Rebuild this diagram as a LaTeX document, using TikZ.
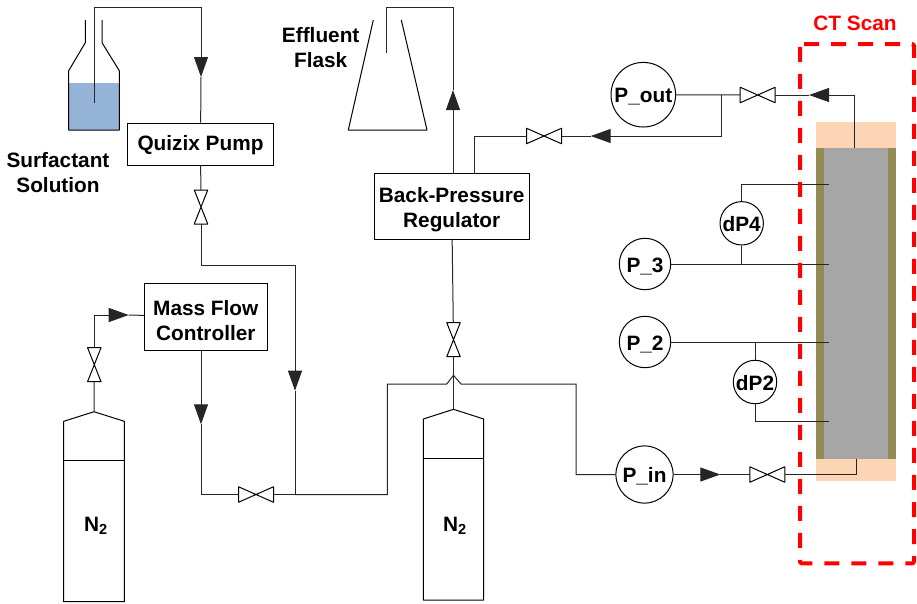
\documentclass[tikz,border=0pt]{standalone}
\usepackage{fontspec}
\setmainfont{Liberation Sans}
\usepackage{xcolor}
\usetikzlibrary{arrows.meta}
\definecolor{liquidcolor}{HTML}{95B3D7}
\definecolor{capcolor}{HTML}{FCD5B5}
\definecolor{sleevecolor}{HTML}{948A54}
\definecolor{corecolor}{HTML}{A6A6A6}
\newcommand{\labelfont}{\fontsize{20.8}{25}\selectfont\bfseries}
\tikzstyle{pipe} = [line width=1pt, draw=black!85]
\tikzstyle{arrow} = [pipe, -{Triangle[length=20pt, width=14pt]}]
\tikzstyle{unit} = [rectangle, draw=black, line width=1pt,
font=\labelfont, align=center, text centered, inner sep=0pt, text height=48pt]
\tikzstyle{gauge} = [circle, draw=black, fill=white, line width=1pt,
font=\labelfont, inner sep=0pt, text height=16pt, text depth=0pt]
\tikzstyle{plain} = [font=\labelfont, align=center, inner sep=0pt]
\tikzstyle{layer} = [rectangle, inner sep=0pt, outer sep=0pt]
\tikzstyle{vessel} = [line width=1pt, draw=black, line join=round]
\tikzstyle{valvebox} = [rectangle, inner sep=0pt, outer sep=0pt]
% #1 name, #2 position
\newcommand{\hvalve}[2]{
  \node (#1) [valvebox, minimum width=35pt, minimum height=15.5pt] at (#2) {};
  \draw [vessel, fill=white] (#1.north west) -- (#1.south east)
    -- (#1.north east) -- (#1.south west) -- cycle;
}
\newcommand{\vvalve}[2]{
  \node (#1) [valvebox, minimum width=13.5pt, minimum height=34pt] at (#2) {};
  \draw [vessel, fill=white] (#1.north west) -- (#1.south east)
    -- (#1.south west) -- (#1.north east) -- cycle;
}
\begin{document}
\begin{tikzpicture}[x=1pt, y=-1pt]
\useasboundingbox (0,0) rectangle (917,603);

%-----------the core holder
\node (captop) [layer, fill=capcolor, minimum width=80pt, minimum height=26.6pt]
  at (856,135) {};
\node (capbot) [layer, fill=capcolor, minimum width=80pt, minimum height=21.4pt]
  at (856,470) {};
\node (sleeve) [layer, fill=sleevecolor, minimum width=80pt, minimum height=311pt]
  at (856,303.8) {};
\node (core) [layer, fill=corecolor, minimum width=64pt, minimum height=311pt]
  at (856,303.8) {};

%-----------surfactant bottle
\fill [liquidcolor] (68.7,83) rectangle (119.3,130);
\draw [vessel] (85.3,20) -- (85.3,42.7) -- (68.7,70.7) -- (68.7,130)
  -- (119.3,130) -- (119.3,70.7) -- (102,42.7) -- (102,20);
\node (surfactant) [plain] at (58,172.5) {Surfactant\\Solution};

%-----------effluent flask
\draw [vessel] (373.3,20) -- (348.3,130) -- (427,130) -- (401.3,20);
\node (effluent) [plain] at (320.7,47.5) {Effluent\\Flask};

%-----------gas bottles
\draw [vessel] (94,411.7) -- (124.3,421.3) -- (124.3,601.7) -- (63.7,601.7)
  -- (63.7,421.3) -- cycle;
\draw [vessel] (63.7,460.3) -- (124.3,460.3);
\node (gasleft) [plain] at (96,526) {N\textsubscript{2}};
\draw [vessel] (453.5,409.3) -- (483.7,419) -- (483.7,600) -- (423.3,600)
  -- (423.3,419) -- cycle;
\draw [vessel] (423.3,458.7) -- (483.7,458.7);
\node (gasright) [plain] at (455,526) {N\textsubscript{2}};

%-----------units
\node (pump) [unit, minimum width=146.7pt, minimum height=42pt, text height=17.7pt]
  at (200.5,144) {Quizix Pump};
\node (mfc) [unit, minimum width=123pt, minimum height=67.7pt] at (205.8,317)
  {Mass Flow\\Controller};
\node (bpr) [unit, minimum width=155.3pt, minimum height=66pt] at (451.7,206)
  {Back-Pressure\\Regulator};

%-----------gauges
\node (pout) [gauge, minimum size=64.6pt] at (643.3,94.7) {P\_out};
\node (pthree) [gauge, minimum size=51.4pt] at (645,264) {P\_3};
\node (ptwo) [gauge, minimum size=51.4pt] at (645,342) {P\_2};
\node (pin) [gauge, minimum size=57.2pt] at (644.5,474.5) {P\_in};
\node (dpfour) [gauge, minimum size=43.4pt] at (741.7,223.3) {dP4};
\node (dptwo) [gauge, minimum size=43.4pt] at (755,382) {dP2};

%-----------valves
\vvalve{vpump}{201,207}
\vvalve{vmfc}{94.3,364.7}
\vvalve{vgas}{453.5,339.7}
\hvalve{vmix}{256,494.5}
\hvalve{vbpr}{544,136}
\hvalve{vout}{757.7,95}
\hvalve{vin}{767.3,474.5}

%-----------free ends and corners
\coordinate (dipin) at (94,103);
\coordinate (dipout) at (386,53.3);
\coordinate (tipfeed) at (201,77);
\coordinate (tipflask) at (453,90);
\coordinate (tipbpr) at (590.7,136);
\coordinate (tipout) at (809,95);
\coordinate (tipmfc) at (128.7,315);
\coordinate (tipsurf) at (295,390.7);
\coordinate (tipgas) at (201,424.3);
\coordinate (tipin) at (720.3,474.5);
\coordinate (tee) at (295,494.5);
\coordinate (bottleleft) at (94,411.7);
\coordinate (bottleright) at (453.5,409.3);
\coordinate (splitout) at (721.3,94.7);
\coordinate (coretop) at (854.3,148.3);
\coordinate (corebot) at (856,459.3);
\coordinate (portfour) at (829,184.3);
\coordinate (portthree) at (829,264);
\coordinate (porttwo) at (829,342);
\coordinate (portone) at (829,421.3);
\coordinate (teefour) at (741.7,264);
\coordinate (teetwo) at (755,342);

%-----------surfactant line
\draw [arrow] (dipin) -- (94,7.5) -- (201,7.5) -- (tipfeed);
\draw [pipe] (tipfeed) -- (pump);
\draw [pipe] (pump) -- (vpump);
\draw [arrow] (vpump) |- (295,265) -- (tipsurf);
\draw [pipe] (tipsurf) -- (tee);

%-----------gas line
\draw [pipe] (bottleleft) -- (vmfc);
\draw [arrow] (vmfc) |- (tipmfc);
\draw [pipe] (tipmfc) -- (mfc);
\draw [arrow] (mfc.south -| tipgas) -- (tipgas);
\draw [pipe] (tipgas) |- (vmix);
\draw [pipe] (vmix) -- (tee);

%-----------feed to the core
\draw [pipe] (tee) -- (387.3,494.5) -- (387.3,384) -- (446.7,384)
  -- (453.5,375.3) -- (461,384) -- (576,384) -- (576,474.5) -- (pin);
\draw [arrow] (pin) -- (tipin);
\draw [pipe] (tipin) -- (vin);
\draw [pipe] (vin) -| (corebot);

%-----------out of the core
\draw [arrow] (coretop) |- (tipout);
\draw [pipe] (tipout) -- (vout);
\draw [pipe] (vout) -- (pout);
\draw [arrow] (splitout) |- (tipbpr);
\draw [pipe] (tipbpr) -- (vbpr);
\draw [pipe] (vbpr) -| (474.3,173);
\draw [arrow] (bpr.north -| tipflask) -- (tipflask);
\draw [pipe] (tipflask) |- (386,7.5) -- (dipout);
\draw [pipe] (bpr) -- (vgas);
\draw [pipe] (vgas) -- (bottleright);

%-----------pressure taps
\draw [pipe] (pthree) -- (portthree);
\draw [pipe] (ptwo) -- (porttwo);
\draw [pipe] (dpfour) |- (portfour);
\draw [pipe] (dpfour) -- (teefour);
\draw [pipe] (dptwo) -- (teetwo);
\draw [pipe] (dptwo) |- (portone);

%-----------the scanned region
\node (scan) [rectangle, minimum width=114pt, minimum height=519.3pt,
  inner sep=0pt, outer sep=0pt] at (857,303.7) {};
\draw [draw=red, line width=4pt, rounded corners=2pt,
  dash pattern=on 15pt off 12pt, dash phase=25pt]
  (scan.north west) -- (scan.north east) -- (scan.south east)
  -- (scan.south west) -- cycle;
\node (scanlabel) [plain, text=red] at (855,23.3) {CT Scan};

\end{tikzpicture}
\end{document}
